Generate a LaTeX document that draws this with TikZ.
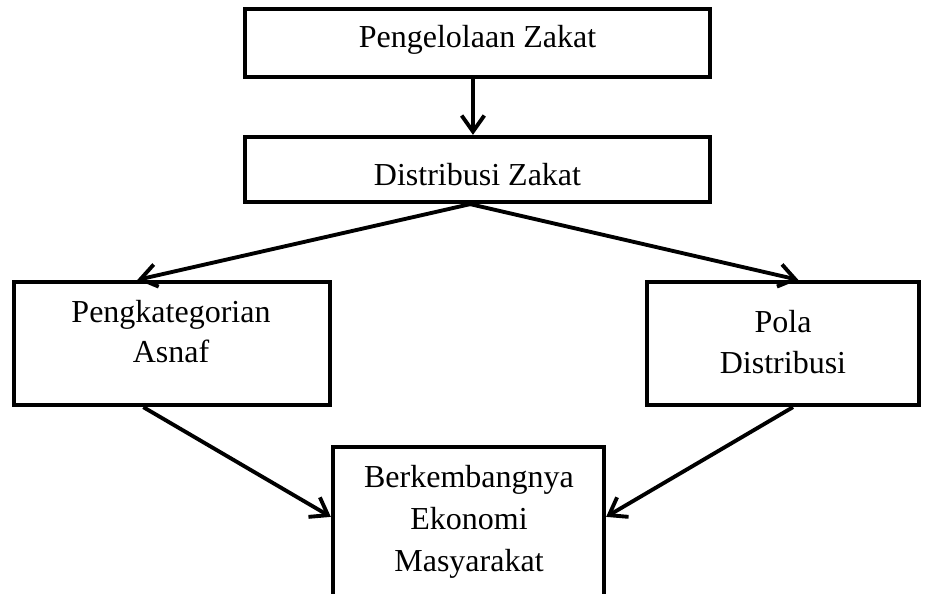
\documentclass[tikz,border=0pt]{standalone}
\usepackage{fontspec}
\setmainfont{Liberation Serif}
\usetikzlibrary{arrows.meta}
\begin{document}
\begin{tikzpicture}[x=0.75pt,y=-0.75pt,
  box/.style={draw,line width=3.2pt,inner sep=0pt},
  txt/.style={anchor=base,inner sep=0pt,font=\fontsize{24pt}{30pt}\selectfont},
  arr/.style={line width=2.9pt,-{Straight Barb[length=12pt,width=17pt]}}]
\useasboundingbox (0,0) rectangle (928,593);
\clip (0,0) rectangle (928,593);
% boxes
\node[box,minimum width=348.75pt,minimum height=51pt] (b1) at (477.5,43) {};
\node[box,minimum width=348.75pt,minimum height=48.75pt] (b2) at (477.5,169.5) {};
\node[box,minimum width=237pt,minimum height=92.25pt] (b3) at (172,343.5) {};
\node[box,minimum width=204pt,minimum height=92.25pt] (b4) at (783,343.5) {};
\node[box,minimum width=203.25pt,minimum height=144.75pt] (b5) at (468.5,543.5) {};
% texts
\node[txt] (t1) at (477.5,47) {Pengelolaan Zakat};
\node[txt] (t2) at (477.5,185) {Distribusi Zakat};
\node[txt] (t3a) at (171,322) {Pengkategorian};
\node[txt] (t3b) at (171,362) {Asnaf};
\node[txt] (t4a) at (783,332) {Pola};
\node[txt] (t4b) at (783,373) {Distribusi};
\node[txt] (t5a) at (469,487) {Berkembangnya};
\node[txt] (t5b) at (469,529) {Ekonomi};
\node[txt] (t5c) at (469,571) {Masyarakat};
% connectors
\draw[arr] ([xshift=-3.4pt]b1.south) -- ([xshift=-3.4pt]b2.north);
\draw[arr] ([xshift=-5.5pt]b2.south) -- ([xshift=-26pt]b3.north);
\draw[arr] ([xshift=-5.5pt]b2.south) -- ([xshift=11.5pt]b4.north);
\draw[arr] ([xshift=-21.5pt]b3.south) -- ([yshift=-54pt]b5.north west);
\draw[arr] ([xshift=7.5pt]b4.south) -- ([yshift=-54pt]b5.north east);
\end{tikzpicture}
\end{document}
